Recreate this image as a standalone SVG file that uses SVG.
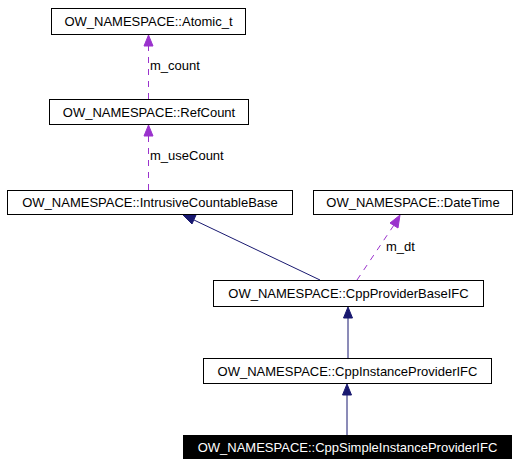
<svg xmlns="http://www.w3.org/2000/svg" width="520" height="467" viewBox="0 0 520 467">
<style>
.box{fill:#fff;stroke:#000;stroke-width:1}
.t{font-family:"Liberation Sans",Arial,sans-serif;font-size:13px;fill:#000;text-anchor:middle}
.lbl{font-family:"Liberation Sans",Arial,sans-serif;font-size:13px;fill:#000}
.inh{stroke:#191970;stroke-width:1;fill:none}
.use{stroke:#9a32cd;stroke-width:1;fill:none;stroke-dasharray:6,6}
.hb{fill:#191970;stroke:#191970}
.hp{fill:#9a32cd;stroke:#9a32cd}
</style>
<rect width="520" height="467" fill="#fff"/>
<g id="connectors">
<line class="use" x1="148.5" y1="99" x2="148.5" y2="46"/>
<polygon class="hp" points="148.5,35 144,46 153,46"/>
<text class="lbl" x="150" y="70">m_count</text>
<line class="use" x1="148.5" y1="190" x2="148.5" y2="136"/>
<polygon class="hp" points="148.5,125 144,136 153,136"/>
<text class="lbl" x="150" y="160">m_useCount</text>
<line class="use" x1="357" y1="280" x2="394" y2="225"/>
<polygon class="hp" points="400,215 390,223 398,228"/>
<text class="lbl" x="386" y="251">m_dt</text>
<line class="inh" x1="320" y1="280" x2="194" y2="220"/>
<polygon class="hb" points="183,215 196,215 192,224"/>
<line class="inh" x1="348" y1="358" x2="348" y2="318"/>
<polygon class="hb" points="348,307 343.5,318 352.5,318"/>
<line class="inh" x1="347" y1="435" x2="347" y2="395"/>
<polygon class="hb" points="347,384 342.5,395 351.5,395"/>
</g>
<g id="atomic"><rect class="box" x="51.5" y="8.5" width="194" height="26"/><text class="t" x="148.5" y="26">OW_NAMESPACE::Atomic_t</text></g>
<g id="refcount"><rect class="box" x="49.5" y="99.5" width="199" height="25"/><text class="t" x="149" y="116.5">OW_NAMESPACE::RefCount</text></g>
<g id="intrusive"><rect class="box" x="7.5" y="190.5" width="285" height="24"/><text class="t" x="150" y="207">OW_NAMESPACE::IntrusiveCountableBase</text></g>
<g id="datetime"><rect class="box" x="313.5" y="190.5" width="199" height="24"/><text class="t" x="413" y="207">OW_NAMESPACE::DateTime</text></g>
<g id="providerbase"><rect class="box" x="213.5" y="280.5" width="270" height="26"/><text class="t" x="348.5" y="298">OW_NAMESPACE::CppProviderBaseIFC</text></g>
<g id="instanceprovider"><rect class="box" x="203.5" y="358.5" width="288" height="25"/><text class="t" x="347.5" y="375.5">OW_NAMESPACE::CppInstanceProviderIFC</text></g>
<g id="simpleinstance"><rect x="183" y="435" width="329" height="24" fill="#000"/><text class="t" x="347.5" y="452" style="fill:#fff">OW_NAMESPACE::CppSimpleInstanceProviderIFC</text></g>
</svg>
